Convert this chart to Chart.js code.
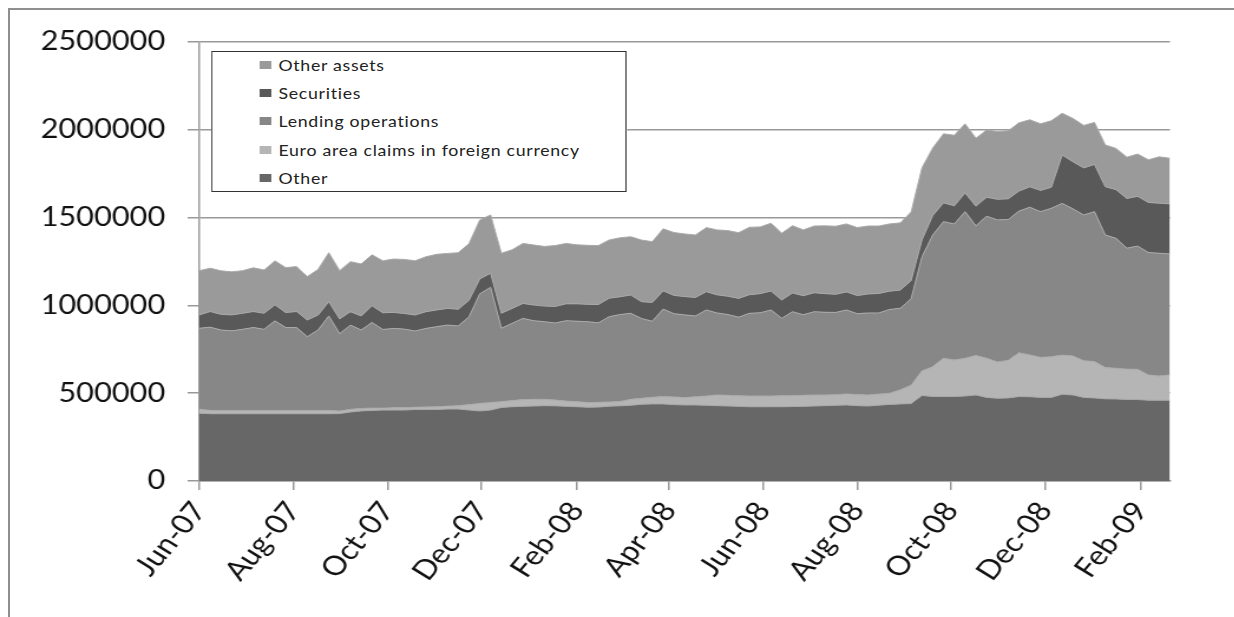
<!DOCTYPE html>
<html>
<head>
<meta charset="utf-8">
<script src="https://cdn.jsdelivr.net/npm/chart.js@4.4.0/dist/chart.umd.min.js"></script>
<style>
  html, body { margin: 0; padding: 0; background: #fff; }
  body { width: 1234px; height: 617px; position: relative; overflow: hidden; }
  .frame { position: absolute; left: 8px; top: 8px; right: -10px; bottom: -10px;
           border-top: 2px solid #8f8f8f; border-left: 2px solid #8f8f8f; }
  /* the reference is a horizontally stretched picture, so stretch the whole chart */
  .stretch { position: absolute; left: 0; top: 0; width: 1046px; height: 617px;
             transform: scaleX(1.18); transform-origin: 0 0; }
  .legend { position: absolute; left: 179px; top: 51px; width: 350px; height: 139px;
            border: 1.3px solid #333; background: #fff; font-family: Lato, sans-serif;
            font-size: 15px; color: #222; letter-spacing: 0.6px; }
  .legend .item { position: absolute; left: 0; height: 20px; line-height: 20px; white-space: nowrap; }
  .legend .box { position: absolute; left: 40px; top: 6px; width: 10px; height: 8px; }
  .legend .txt { position: absolute; left: 56px; top: 0; }
</style>
</head>
<body>
<div class="frame"></div>
<div class="stretch">
  <canvas id="chart"></canvas>
  <div class="legend" id="legend"></div>
</div>
<script>
// weekly data, first week 1 Jun 2007, one point every 7 days
let tickDays = [0, 61, 122, 183, 245, 305, 366, 427, 488, 549, 611];
let tickLabels = ['Jun-07', 'Aug-07', 'Oct-07', 'Dec-07', 'Feb-08', 'Apr-08', 'Jun-08', 'Aug-08', 'Oct-08', 'Dec-08', 'Feb-09'];

let seriesLabels = ['Other', 'Euro area claims in foreign currency', 'Lending operations', 'Securities', 'Other assets'];
let seriesColors = ['#676767', '#b5b5b5', '#878787', '#595959', '#9a9a9a'];

let other = [386000, 383000, 383000, 383000, 383000, 383000, 383000, 383000, 383000, 383000,
  383000, 383000, 383000, 384000, 393000, 399000, 402000, 404000, 404000, 404000,
  407000, 407000, 407000, 410000, 410000, 404000, 399000, 404000, 419000, 423000,
  425000, 427000, 429000, 428000, 425000, 423000, 420000, 421000, 426000, 428000,
  431000, 437000, 439000, 439000, 435000, 433000, 433000, 431000, 429000, 427000,
  425000, 423000, 423000, 423000, 423000, 424000, 425000, 427000, 429000, 431000,
  433000, 429000, 427000, 432000, 436000, 439000, 441000, 487000, 481000, 481000,
  481000, 484000, 490000, 476000, 471000, 473000, 481000, 480000, 476000, 476000,
  494000, 490000, 476000, 473000, 468000, 467000, 464000, 464000, 460000, 460000, 460000];

let euroClaims = [23000, 19000, 19000, 19000, 19000, 19000, 19000, 19000, 19000, 19000,
  19000, 19000, 19000, 14000, 15000, 14000, 13000, 11000, 13000, 14000,
  13000, 15000, 16000, 16000, 19000, 31000, 43000, 43000, 33000, 35000,
  39000, 38000, 36000, 33000, 30000, 29000, 27000, 27000, 24000, 25000,
  34000, 34000, 38000, 42000, 44000, 42000, 47000, 53000, 61000, 61000,
  60000, 61000, 61000, 61000, 63000, 62000, 63000, 63000, 61000, 60000,
  63000, 63000, 63000, 63000, 64000, 80000, 105000, 140000, 170000, 218000,
  208000, 215000, 225000, 223000, 207000, 214000, 249000, 238000, 228000, 232000,
  223000, 222000, 209000, 207000, 178000, 175000, 173000, 172000, 144000, 138000, 144000];

let lending = [461000, 474000, 458000, 453000, 462000, 472000, 462000, 510000, 472000, 472000,
  420000, 458000, 538000, 441000, 480000, 447000, 488000, 448000, 452000, 447000,
  434000, 447000, 456000, 462000, 454000, 500000, 624000, 656000, 418000, 440000,
  462000, 448000, 442000, 439000, 458000, 458000, 460000, 453000, 486000, 495000,
  490000, 454000, 433000, 498000, 474000, 471000, 460000, 490000, 467000, 460000,
  448000, 471000, 474000, 490000, 441000, 478000, 459000, 474000, 471000, 469000,
  478000, 461000, 467000, 462000, 477000, 465000, 493000, 649000, 750000, 778000,
  775000, 835000, 738000, 809000, 809000, 802000, 807000, 841000, 830000, 845000,
  864000, 838000, 830000, 854000, 755000, 740000, 689000, 702000, 697000, 699000, 689000];

let securities = [76000, 89000, 89000, 91000, 91000, 91000, 91000, 91000, 85000, 91000,
  95000, 85000, 81000, 84000, 76000, 80000, 95000, 95000, 91000, 89000,
  91000, 95000, 95000, 95000, 95000, 95000, 85000, 80000, 85000, 85000,
  85000, 89000, 89000, 94000, 96000, 99000, 99000, 104000, 105000, 101000,
  104000, 96000, 107000, 104000, 104000, 104000, 105000, 104000, 103000, 104000,
  107000, 106000, 109000, 108000, 104000, 107000, 108000, 108000, 106000, 103000,
  103000, 103000, 108000, 111000, 104000, 103000, 103000, 97000, 111000, 107000,
  103000, 107000, 112000, 108000, 117000, 118000, 114000, 116000, 121000, 120000,
  275000, 268000, 268000, 269000, 275000, 277000, 283000, 283000, 285000, 285000, 285000];

let otherAssets = [252000, 247000, 248000, 245000, 243000, 249000, 247000, 251000, 256000, 256000,
  247000, 260000, 279000, 275000, 285000, 296000, 290000, 296000, 304000, 308000,
  309000, 313000, 317000, 313000, 322000, 322000, 336000, 332000, 342000, 334000,
  342000, 342000, 340000, 347000, 344000, 336000, 336000, 336000, 332000, 336000,
  332000, 351000, 346000, 353000, 358000, 357000, 356000, 365000, 370000, 374000,
  374000, 384000, 380000, 386000, 380000, 383000, 375000, 380000, 386000, 388000,
  387000, 387000, 387000, 384000, 383000, 383000, 390000, 410000, 384000, 393000,
  402000, 393000, 387000, 383000, 386000, 387000, 389000, 382000, 379000, 379000,
  238000, 247000, 242000, 239000, 238000, 235000, 235000, 241000, 243000, 264000, 260000];

let allSeries = [other, euroClaims, lending, securities, otherAssets];
let lastDay = 630;

let axisFont = { family: 'Lato', size: 26 };

function buildDatasets() {
  let sets = [];
  for (let i = 0; i < allSeries.length; i++) {
    sets.push({
      label: seriesLabels[i],
      data: allSeries[i].map((v, k) => ({ x: k * 7, y: v })),
      backgroundColor: seriesColors[i],
      borderColor: '#a9a9a9',
      borderWidth: 1,
      fill: i === 0 ? 'origin' : '-1',
      pointRadius: 0,
      tension: 0
    });
  }
  return sets;
}

function renderLegend() {
  let legend = document.getElementById('legend');
  // legend lists the top layer first
  for (let i = allSeries.length - 1; i >= 0; i--) {
    let row = allSeries.length - 1 - i;
    let item = document.createElement('div');
    item.className = 'item';
    item.style.top = (3 + row * 28.2) + 'px';
    let box = document.createElement('span');
    box.className = 'box';
    box.style.background = seriesColors[i];
    let txt = document.createElement('span');
    txt.className = 'txt';
    txt.textContent = seriesLabels[i];
    item.appendChild(box);
    item.appendChild(txt);
    legend.appendChild(item);
  }
}

let canvasChart = document.getElementById('chart');
const myChart = new Chart(canvasChart, {
  type: 'line',
  data: { datasets: buildDatasets() },
  options: {
    responsive: true,
    maintainAspectRatio: false,
    animation: false,
    layout: { padding: { left: 0, right: 54.5, top: 42, bottom: 0 } },
    plugins: { legend: { display: false }, tooltip: { enabled: false } },
    scales: {
      x: {
        type: 'linear',
        min: 0,
        max: lastDay,
        afterBuildTicks: function (scale) {
          scale.ticks = tickDays.map(d => ({ value: d }));
        },
        afterFit: function (scale) {
          scale.height = 136;
        },
        grid: { drawOnChartArea: false, drawTicks: true, tickLength: 9, color: '#999', lineWidth: 1.5 },
        border: { color: '#999', width: 1.5 },
        ticks: {
          autoSkip: false,
          minRotation: 54,
          maxRotation: 54,
          padding: 6,
          color: '#111',
          font: { family: 'Lato', size: 27 },
          callback: function (value) {
            return tickLabels[tickDays.indexOf(value)];
          }
        }
      },
      y: {
        stacked: true,
        min: 0,
        max: 2500000,
        afterFit: function (scale) {
          scale.width = 169;
        },
        grid: { color: '#999', lineWidth: 1.5, tickLength: 10 },
        border: { color: '#999', width: 1.5 },
        ticks: {
          stepSize: 500000,
          padding: 19,
          color: '#111',
          font: axisFont,
          callback: function (value) {
            return String(value);
          }
        }
      }
    }
  }
});

renderLegend();
</script>
</body>
</html>
